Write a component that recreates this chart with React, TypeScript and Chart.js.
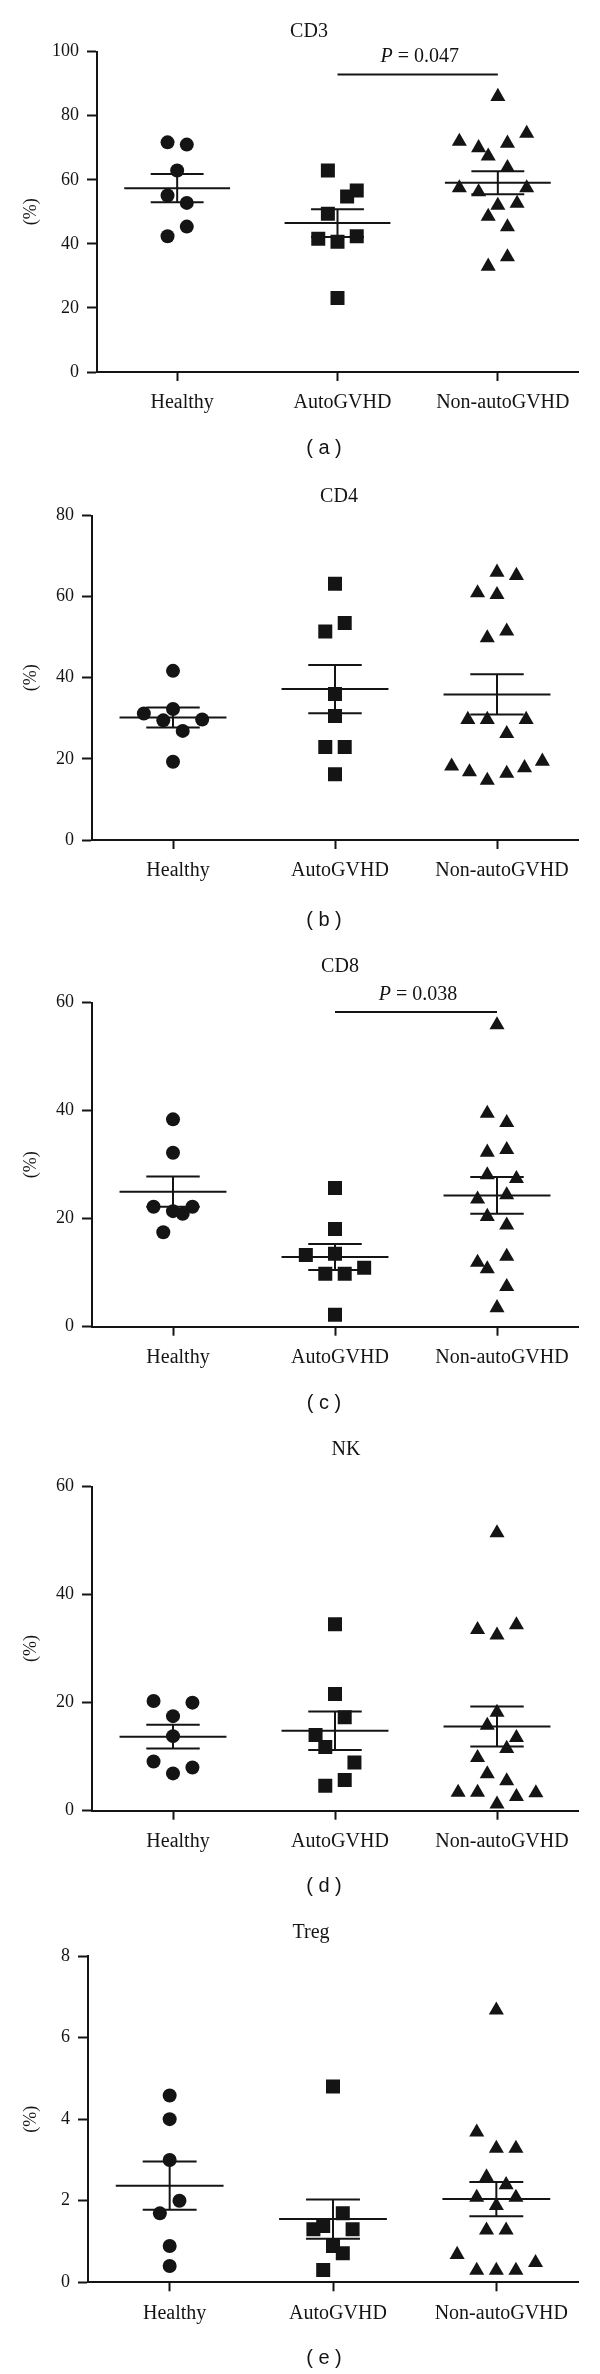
import React, { useEffect, useRef } from 'react';
import { Chart, registerables } from 'chart.js';

Chart.register(...registerables);

// ---------------- data ----------------
const categories = ['Healthy', 'AutoGVHD', 'Non-autoGVHD'];

// CD3
const cd3Healthy = [71.7, 71.0, 62.9, 55.1, 52.8, 45.4, 42.4];
const cd3HealthyJitter = [-0.06, 0.06, 0, -0.06, 0.06, 0.06, -0.06];
const cd3Auto = [62.9, 56.7, 54.8, 49.4, 41.6, 40.7, 42.4, 23.1];
const cd3AutoJitter = [-0.06, 0.12, 0.06, -0.06, -0.12, 0, 0.12, 0];
const cd3Non = [86.0, 74.5, 72.0, 70.0, 71.4, 67.4, 63.8, 57.5, 56.2, 57.5, 52.0, 52.6, 48.6, 45.3, 35.9, 33.0];
const cd3NonJitter = [0, 0.18, -0.24, -0.12, 0.06, -0.06, 0.06, -0.24, -0.12, 0.18, 0, 0.12, -0.06, 0.06, 0.06, -0.06];
const cd3Means = [57.4, 46.5, 59.1];
const cd3Sems = [4.4, 4.35, 3.6];
const cd3Ticks = [0, 20, 40, 60, 80, 100];

// CD4
const cd4Healthy = [41.7, 31.2, 32.3, 29.5, 29.7, 26.9, 19.3];
const cd4HealthyJitter = [0, -0.18, 0, -0.06, 0.18, 0.06, 0];
const cd4Auto = [63.2, 53.5, 51.4, 36.0, 30.6, 22.9, 22.9, 16.2];
const cd4AutoJitter = [0, 0.06, -0.06, 0, 0, -0.06, 0.06, 0];
const cd4Non = [66.0, 65.2, 60.9, 60.5, 51.5, 49.8, 29.7, 29.7, 29.7, 26.2, 18.2, 16.8, 14.7, 16.4, 17.8, 19.4];
const cd4NonJitter = [0, 0.12, -0.12, 0, 0.06, -0.06, -0.18, -0.06, 0.18, 0.06, -0.28, -0.17, -0.06, 0.06, 0.17, 0.28];
const cd4Means = [30.2, 37.2, 35.9];
const cd4Sems = [2.45, 5.95, 4.95];
const cd4Ticks = [0, 20, 40, 60, 80];

// CD8
const cd8Healthy = [38.4, 32.2, 22.2, 22.2, 21.4, 20.9, 17.5];
const cd8HealthyJitter = [0, 0, -0.12, 0.12, 0, 0.06, -0.06];
const cd8Auto = [25.7, 18.1, 13.3, 13.5, 10.9, 9.8, 9.8, 2.2];
const cd8AutoJitter = [0, 0, -0.18, 0, 0.18, -0.06, 0.06, 0];
const cd8Non = [55.9, 39.5, 37.8, 32.3, 32.8, 28.1, 27.4, 23.6, 24.4, 20.4, 18.8, 11.9, 10.7, 13.0, 7.4, 3.5];
const cd8NonJitter = [0, -0.06, 0.06, -0.06, 0.06, -0.06, 0.12, -0.12, 0.06, -0.06, 0.06, -0.12, -0.06, 0.06, 0.06, 0];
const cd8Means = [25.0, 12.9, 24.3];
const cd8Sems = [2.8, 2.4, 3.4];
const cd8Ticks = [0, 20, 40, 60];

// NK
const nkHealthy = [20.3, 20.0, 17.5, 13.8, 9.1, 8.0, 6.9];
const nkHealthyJitter = [-0.12, 0.12, 0, 0, -0.12, 0.12, 0];
const nkAuto = [34.5, 21.6, 17.3, 14.0, 11.8, 8.9, 5.7, 4.6];
const nkAutoJitter = [0, 0, 0.06, -0.12, -0.06, 0.12, 0.06, -0.06];
const nkNon = [51.4, 34.4, 33.5, 32.5, 18.2, 15.8, 13.5, 11.5, 9.8, 6.8, 5.5, 3.4, 3.4, 2.6, 3.3, 1.2];
const nkNonJitter = [0, 0.12, -0.12, 0, 0, -0.06, 0.12, 0.06, -0.12, -0.06, 0.06, -0.24, -0.12, 0.12, 0.24, 0];
const nkMeans = [13.7, 14.8, 15.6];
const nkSems = [2.2, 3.55, 3.7];
const nkTicks = [0, 20, 40, 60];

// Treg
const tregHealthy = [4.58, 4.0, 3.0, 2.0, 1.69, 0.89, 0.40];
const tregHealthyJitter = [0, 0, 0, 0.06, -0.06, 0, 0];
const tregAuto = [4.8, 1.69, 1.38, 1.30, 1.30, 0.89, 0.71, 0.30];
const tregAutoJitter = [0, 0.06, -0.06, -0.12, 0.12, 0, 0.06, -0.06];
const tregNon = [6.67, 3.68, 3.28, 3.28, 2.58, 2.39, 2.08, 2.08, 1.88, 1.28, 1.28, 0.68, 0.29, 0.29, 0.29, 0.48];
const tregNonJitter = [0, -0.12, 0, 0.12, -0.06, 0.06, -0.12, 0.12, 0, -0.06, 0.06, -0.24, -0.12, 0, 0.12, 0.24];
const tregMeans = [2.37, 1.55, 2.04];
const tregSems = [0.59, 0.48, 0.42];
const tregTicks = [0, 2, 4, 6, 8];

const panelTitles = ['CD3', 'CD4', 'CD8', 'NK', 'Treg'];
const panelLetters = ['( a )', '( b )', '( c )', '( d )', '( e )'];
const pValueTexts = ['0.047', null, '0.038', null, null];
const pBracketLevels = [92.9, null, 58.3, null, null];
const pTextLevels = [98.4, null, 61.4, null, null];

const groupsByPanel = [
  [[cd3Healthy, cd3HealthyJitter], [cd3Auto, cd3AutoJitter], [cd3Non, cd3NonJitter]],
  [[cd4Healthy, cd4HealthyJitter], [cd4Auto, cd4AutoJitter], [cd4Non, cd4NonJitter]],
  [[cd8Healthy, cd8HealthyJitter], [cd8Auto, cd8AutoJitter], [cd8Non, cd8NonJitter]],
  [[nkHealthy, nkHealthyJitter], [nkAuto, nkAutoJitter], [nkNon, nkNonJitter]],
  [[tregHealthy, tregHealthyJitter], [tregAuto, tregAutoJitter], [tregNon, tregNonJitter]],
];
const meansByPanel = [cd3Means, cd4Means, cd8Means, nkMeans, tregMeans];
const semsByPanel = [cd3Sems, cd4Sems, cd8Sems, nkSems, tregSems];
const ticksByPanel = [cd3Ticks, cd4Ticks, cd8Ticks, nkTicks, tregTicks];

// ---------------- layout / style ----------------
const INK = '#141414';
const SERIF = '"Liberation Serif", "Times New Roman", serif';
const SANS = '"Liberation Sans", Arial, sans-serif';
const X_AXIS_H = 50;

const layouts = [
  { top: 0, height: 500, areaTop: 51.7, areaBottom: 372, areaLeft: 97, areaRight: 578, titleX: 309, titleY: 32, letterY: 448 },
  { top: 470, height: 500, areaTop: 45.5, areaBottom: 370, areaLeft: 92, areaRight: 578, titleX: 339, titleY: 27, letterY: 450 },
  { top: 940, height: 500, areaTop: 62.7, areaBottom: 386.7, areaLeft: 92, areaRight: 578, titleX: 340, titleY: 27, letterY: 463 },
  { top: 1410, height: 500, areaTop: 76.5, areaBottom: 400.7, areaLeft: 92, areaRight: 578, titleX: 346, titleY: 40, letterY: 476 },
  { top: 1890, height: 484, areaTop: 66, areaBottom: 392.3, areaLeft: 88, areaRight: 578, titleX: 311, titleY: 43, letterY: 468 },
];
const markerStyles = [
  { pointStyle: 'circle', radius: 7 },
  { pointStyle: 'rect', radius: 9.9 },
  { pointStyle: 'triangle', radius: 8.7 },
];

function Panel({ index }: { index: number }) {
  const ref = useRef<HTMLCanvasElement | null>(null);
  const L = layouts[index];

  useEffect(() => {
    const canvas = ref.current;
    if (!canvas) return;
    const ticks = ticksByPanel[index];
    const yMax = ticks[ticks.length - 1];
    const means = meansByPanel[index];
    const sems = semsByPanel[index];

    const datasets = groupsByPanel[index].map(([vals, jit], g) => ({
      type: 'scatter' as const,
      label: categories[g],
      data: vals.map((v, i) => ({ x: g + jit[i], y: v })),
      pointStyle: markerStyles[g].pointStyle as any,
      pointRadius: markerStyles[g].radius,
      pointBackgroundColor: INK,
      pointBorderWidth: 0,
      pointBorderColor: INK,
      showLine: false,
    }));

    const overlay = {
      id: 'overlay',
      afterDatasetsDraw(chart: any) {
        const { ctx, scales } = chart;
        const xs = scales.x;
        const ys = scales.y;
        ctx.save();
        ctx.strokeStyle = INK;
        ctx.lineWidth = 2;
        ctx.lineCap = 'butt';
        for (let g = 0; g < 3; g++) {
          const m = means[g];
          const s = sems[g];
          const seg = (x1: number, y1: number, x2: number, y2: number) => {
            ctx.beginPath();
            ctx.moveTo(xs.getPixelForValue(x1), ys.getPixelForValue(y1));
            ctx.lineTo(xs.getPixelForValue(x2), ys.getPixelForValue(y2));
            ctx.stroke();
          };
          seg(g - 0.33, m, g + 0.33, m);
          seg(g, m - s, g, m + s);
          seg(g - 0.165, m + s, g + 0.165, m + s);
          seg(g - 0.165, m - s, g + 0.165, m - s);
        }
        ctx.restore();
      },
      afterDraw(chart: any) {
        const { ctx, scales, chartArea } = chart;
        const xs = scales.x;
        const ys = scales.y;
        ctx.save();
        ctx.fillStyle = INK;
        ctx.textAlign = 'center';
        ctx.textBaseline = 'middle';
        ctx.font = `20px ${SERIF}`;
        ctx.fillText(panelTitles[index], L.titleX, L.titleY);
        ctx.font = `20px ${SANS}`;
        ctx.fillText(panelLetters[index], 324, L.letterY);
        // y axis label
        ctx.save();
        ctx.translate(31, (chartArea.top + chartArea.bottom) / 2);
        ctx.rotate(-Math.PI / 2);
        ctx.font = `18px ${SERIF}`;
        ctx.fillText('(%)', 0, 0);
        ctx.restore();
        // p value bracket
        const pText = pValueTexts[index];
        const pLevel = pBracketLevels[index];
        const pTextLevel = pTextLevels[index];
        if (pText && pLevel != null && pTextLevel != null) {
          const x1 = xs.getPixelForValue(1);
          const x2 = xs.getPixelForValue(2);
          const yb = ys.getPixelForValue(pLevel);
          ctx.strokeStyle = INK;
          ctx.lineWidth = 2;
          ctx.beginPath();
          ctx.moveTo(x1, yb);
          ctx.lineTo(x2, yb);
          ctx.stroke();
          const yt = ys.getPixelForValue(pTextLevel);
          ctx.font = `italic 20px ${SERIF}`;
          const wP = ctx.measureText('P').width;
          ctx.font = `20px ${SERIF}`;
          const rest = ' = ' + pText;
          const wR = ctx.measureText(rest).width;
          const cx = (x1 + x2) / 2 + 2;
          const start = cx - (wP + wR) / 2;
          ctx.textAlign = 'left';
          ctx.font = `italic 20px ${SERIF}`;
          ctx.fillText('P', start, yt);
          ctx.font = `20px ${SERIF}`;
          ctx.fillText(rest, start + wP, yt);
        }
        ctx.restore();
      },
    };

    const chart = new Chart(canvas, {
      type: 'scatter',
      data: { datasets: datasets as any },
      options: {
        animation: false,
        responsive: false,
        maintainAspectRatio: false,
        devicePixelRatio: 1,
        layout: {
          padding: {
            top: L.areaTop,
            right: 600 - L.areaRight,
            bottom: L.height - L.areaBottom - X_AXIS_H,
            left: 0,
          },
        },
        plugins: {
          legend: { display: false },
          tooltip: { enabled: false },
          title: { display: false },
        },
        scales: {
          x: {
            type: 'linear',
            min: -0.5,
            max: 2.5,
            afterBuildTicks: (s: any) => {
              s.ticks = categories.map((_, i) => ({ value: i }));
            },
            afterFit: (s: any) => { s.height = X_AXIS_H; },
            grid: { display: true, drawOnChartArea: false, drawTicks: true, tickLength: 9, tickWidth: 2, tickColor: INK },
            border: { display: true, color: INK, width: 2 },
            ticks: {
              autoSkip: false,
              maxRotation: 0,
              minRotation: 0,
              padding: 10,
              labelOffset: 5,
              color: INK,
              font: { family: SERIF, size: 20 },
              callback: (v: any) => {
                const n = Math.round(Number(v));
                return categories[n] ?? '';
              },
            },
          },
          y: {
            type: 'linear',
            min: 0,
            max: yMax,
            afterBuildTicks: (s: any) => {
              s.ticks = ticks.map((t) => ({ value: t }));
            },
            afterFit: (s: any) => { s.width = L.areaLeft; },
            grid: { display: true, drawOnChartArea: false, drawTicks: true, tickLength: 10, tickWidth: 2, tickColor: INK },
            border: { display: true, color: INK, width: 2 },
            ticks: {
              padding: 8,
              color: INK,
              font: { family: SERIF, size: 18 },
            },
          },
        },
      } as any,
      plugins: [overlay],
    });
    return () => chart.destroy();
  }, [index]);

  return (
    <canvas
      ref={ref}
      width={600}
      height={L.height}
      style={{ position: 'absolute', left: 0, top: L.top, width: 600, height: L.height }}
    />
  );
}

export default function App() {
  return (
    <div style={{ position: 'absolute', left: 0, top: 0, width: 600, height: 2374, background: '#fff', overflow: 'hidden' }}>
      {layouts.map((_, i) => (
        <Panel key={i} index={i} />
      ))}
    </div>
  );
}
